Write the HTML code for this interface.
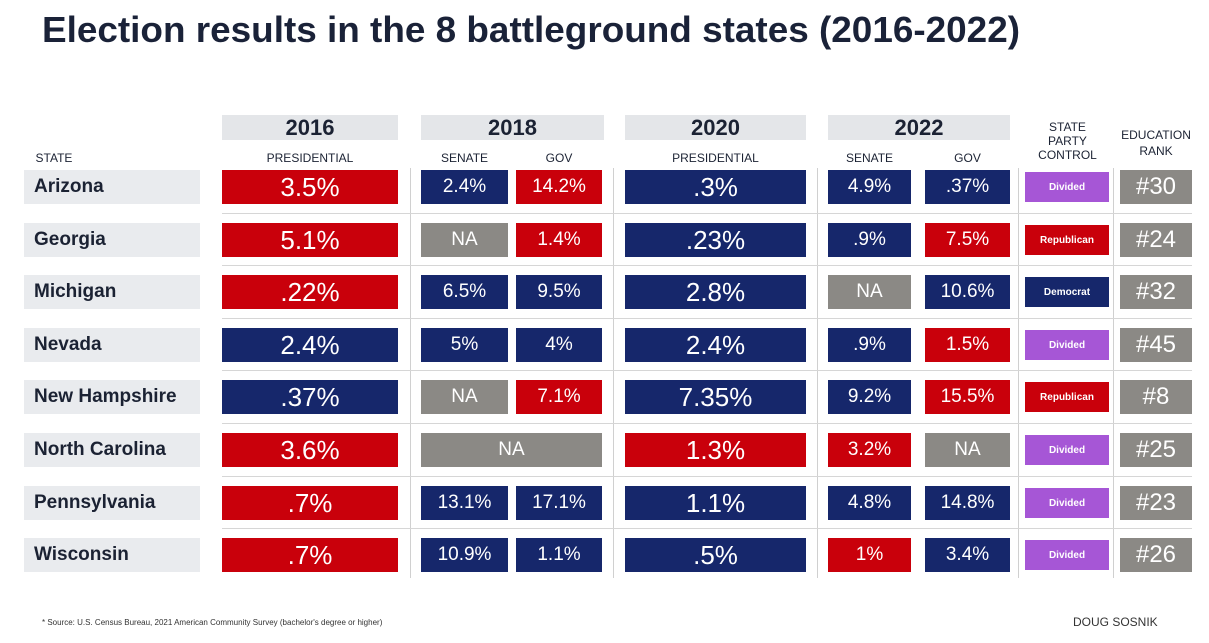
<!DOCTYPE html>
<html><head><meta charset="utf-8"><style>
body{margin:0;width:1209px;height:643px;background:#fff;position:relative;overflow:hidden;font-family:"Liberation Sans",sans-serif}
.a{position:absolute;box-sizing:border-box;display:flex;align-items:center;justify-content:center;color:#fff}
.hdr{background:#e4e6e9;color:#1b2233;font-size:22px;font-weight:600}
.sub{color:#1b2233;font-size:12px}
.st{background:#e9ebee;color:#1b2233;font-size:19px;justify-content:flex-start;padding-left:10px;font-weight:600}
.vl{position:absolute;width:1px;background:#d0d0d0}
.hl{position:absolute;height:1px;background:#d6d6d6}
</style></head><body>
<svg style="position:absolute;left:0;top:0" width="1209" height="70"><text x="42" y="42" textLength="978" lengthAdjust="spacingAndGlyphs" font-family="Liberation Sans" font-size="36" font-weight="600" fill="#1a2238">Election results in the 8 battleground states (2016-2022)</text></svg>
<div id="t"></div>
<div style="position:absolute;left:42px;top:618px;font-size:8px;color:#333">* Source: U.S. Census Bureau, 2021 American Community Survey (bachelor's degree or higher)</div>
<div style="position:absolute;left:1073px;top:615px;font-size:12px;color:#333">DOUG SOSNIK</div>
<script>
const states=["Arizona","Georgia","Michigan","Nevada","New Hampshire","North Carolina","Pennsylvania","Wisconsin"];
const pres16=["R3.5%","R5.1%","R.22%","D2.4%","D.37%","R3.6%","R.7%","R.7%"];
const sen18=["D2.4%","NNA","D6.5%","D5%","NNA","NNA","D13.1%","D10.9%"];
const gov18=["R14.2%","R1.4%","D9.5%","D4%","R7.1%","NNA","D17.1%","D1.1%"];
const pres20=["D.3%","D.23%","D2.8%","D2.4%","D7.35%","R1.3%","D1.1%","D.5%"];
const sen22=["D4.9%","D.9%","NNA","D.9%","D9.2%","R3.2%","D4.8%","R1%"];
const gov22=["D.37%","R7.5%","D10.6%","R1.5%","R15.5%","NNA","D14.8%","D3.4%"];
const party=["Divided","Republican","Democrat","Divided","Republican","Divided","Divided","Divided"];
const eduRank=["#30","#24","#32","#45","#8","#25","#23","#26"];
const C={R:"#c9000b",D:"#16276b",N:"#8b8985"};
const PC={Divided:"#a656d6",Republican:"#c9000b",Democrat:"#16276b"};
const t=document.getElementById('t');
function box(x,y,w,h,cls,txt,bg,fs){const d=document.createElement('div');d.className='a '+cls;d.style.cssText=`left:${x}px;top:${y}px;width:${w}px;height:${h}px;${bg?'background:'+bg+';':''}${fs?'font-size:'+fs+'px;':''}`;d.textContent=txt;t.appendChild(d);return d;}
[[222,176,"2016"],[421,183,"2018"],[625,181,"2020"],[828,182,"2022"]].forEach(h=>{const d=box(h[0],115,h[1],25,'hdr',h[2]);

});
[[24,60,"STATE"],[222,176,"PRESIDENTIAL"],[421,87,"SENATE"],[516,86,"GOV"],[625,181,"PRESIDENTIAL"],[828,83,"SENATE"],[925,85,"GOV"]].forEach(s=>{const d=box(s[0],150,s[1],15,'sub',s[2]);

});
let d=box(1025,115,85,52,'sub','');d.innerHTML='STATE<br>PARTY<br>CONTROL';d.style.textAlign='center';d.style.lineHeight='14px';


d=box(1112,125,88,36,'sub','');d.innerHTML='EDUCATION<br>RANK';d.style.textAlign='center';d.style.lineHeight='16px';


[410,613,817,1018,1113].forEach(x=>{const v=document.createElement('div');v.className='vl';v.style.cssText=`left:${x}px;top:168px;height:410px`;

t.appendChild(v);});
const y0=170,dy=52.6,bh=34;
states.forEach((s,i)=>{const y=Math.round(y0+i*dy);
 if(i>0){const l=document.createElement('div');l.className='hl';l.style.cssText=`left:222px;top:${y-10}px;width:970px`;
 
 t.appendChild(l);}
 let e=box(24,y,176,bh,'st',s);
 
 
 const cell=(x,w,v,fs,nm)=>{const c=box(x,y,w,bh,'',v.slice(1),C[v[0]],fs);
  
  };
 cell(222,176,pres16[i],26,'pres-2016-cell');
 if(sen18[i]=="NNA"&&gov18[i]=="NNA")cell(421,181,sen18[i],19,'2018-na-cell');
 else{cell(421,87,sen18[i],19,'senate-2018-cell');cell(516,86,gov18[i],19,'gov-2018-cell');}
 cell(625,181,pres20[i],26,'pres-2020-cell');
 cell(828,83,sen22[i],19,'senate-2022-cell');
 cell(925,85,gov22[i],19,'gov-2022-cell');
 e=box(1025,y+2,84,bh-4,'',party[i],PC[party[i]],10);e.style.fontWeight='bold';
 
 
 e=box(1120,y,72,bh,'',eduRank[i],'#8b8985',24);
 
 
});
</script>
</body></html>
